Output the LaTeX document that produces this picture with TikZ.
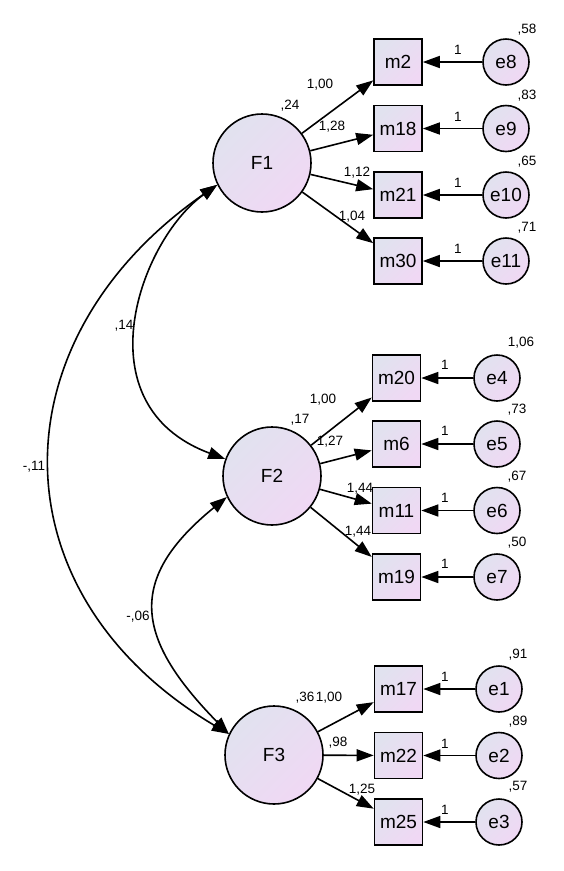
\documentclass[tikz,border=0pt]{standalone}
\usepackage{fontspec}
\setmainfont{Liberation Sans}
\usetikzlibrary{arrows.meta,shadings}
\definecolor{shA}{HTML}{E1E2EF}
\definecolor{shB}{HTML}{F0D8F4}
\tikzset{
  gfill/.style={top color=shA, bottom color=shB, shading angle=45},
  lat/.style={circle, draw, line width=1.6pt, minimum size=98pt, inner sep=0pt, gfill, font=\fontsize{19}{22}\selectfont},
  obs/.style={rectangle, draw, line width=1.6pt, minimum width=48pt, minimum height=46pt, inner sep=0pt, gfill, font=\fontsize{19}{22}\selectfont},
  err/.style={circle, draw, line width=1.6pt, minimum size=46pt, inner sep=0pt, gfill, font=\fontsize{19}{22}\selectfont},
  lab/.style={font=\fontsize{13.5}{15}\selectfont, inner sep=0pt},
  reg/.style={line width=1.6pt, -{Triangle[length=17pt,width=12pt]}},
  cov/.style={line width=1.6pt, {Triangle[length=17pt,width=12pt]}-{Triangle[length=17pt,width=12pt]}}
}
\begin{document}
\begin{tikzpicture}[x=1pt,y=-1pt]
\useasboundingbox (0,0) rectangle (564,871);
% latent factors
\node[lat] (F1) at (262,163) {F1};
\node[lat] (F2) at (272,476) {F2};
\node[lat] (F3) at (274,755) {F3};
% F1 group
\node[obs] (m2)  at (398,62)  {m2};
\node[obs] (m18) at (398,128.5) {m18};
\node[obs] (m21) at (398,195) {m21};
\node[obs] (m30) at (398,261) {m30};
\node[err] (e8)  at (506,62)  {e8};
\node[err] (e9)  at (506,128.5) {e9};
\node[err] (e10) at (506,195) {e10};
\node[err] (e11) at (506,261) {e11};
% F2 group
\node[obs] (m20) at (396.5,378) {m20};
\node[obs] (m6)  at (396.5,444) {m6};
\node[obs] (m11) at (396.5,510.5) {m11};
\node[obs] (m19) at (396.5,577) {m19};
\node[err] (e4) at (497,378) {e4};
\node[err] (e5) at (497,444) {e5};
\node[err] (e6) at (497,510.5) {e6};
\node[err] (e7) at (497,577) {e7};
% F3 group
\node[obs] (m17) at (398.5,689) {m17};
\node[obs] (m22) at (398.5,755.5) {m22};
\node[obs] (m25) at (398.5,822) {m25};
\node[err] (e1) at (499,689) {e1};
\node[err] (e2) at (499,755.5) {e2};
\node[err] (e3) at (499,822) {e3};
% regressions
\draw[reg] (F1) -- (m2);
\draw[reg] (F1) -- (m18);
\draw[reg] (F1) -- (m21);
\draw[reg] (F1) -- (m30);
\draw[reg] (F2) -- (m20);
\draw[reg] (F2) -- (m6);
\draw[reg] (F2) -- (m11);
\draw[reg] (F2) -- (m19);
\draw[reg] (F3) -- (m17);
\draw[reg] (F3) -- (m22);
\draw[reg] (F3) -- (m25);
\foreach \e/\m in {e8/m2,e9/m18,e10/m21,e11/m30,e4/m20,e5/m6,e6/m11,e7/m19,e1/m17,e2/m22,e3/m25}
  \draw[reg] (\e) -- (\m);
% covariances
\draw[cov] (F1.206) .. controls (140,240) and (80,405) .. (F2.160);
\draw[cov] (F1.206) .. controls (-6,340) and (-7,594) .. (F3.155);
\draw[cov] (F2.205) .. controls (125,580) and (136,639) .. (F3.155);
% labels: covariances
\node[lab] (c12) at (124,326) {,14};
\node[lab] (c13) at (34,467) {-,11};
\node[lab] (c23) at (138,617) {-,06};
% factor variances
\node[lab] (v1) at (290,106) {,24};
\node[lab] (v2) at (300,420) {,17};
\node[lab] (v3) at (305,698) {,36};
% loadings
\node[lab] (l1) at (320,85) {1,00};
\node[lab] (l2) at (332,127) {1,28};
\node[lab] (l3) at (357,173) {1,12};
\node[lab] (l4) at (352,217) {1,04};
\node[lab] (l5) at (323,400) {1,00};
\node[lab] (l6) at (330,442) {1,27};
\node[lab] (l7) at (360,489) {1,44};
\node[lab] (l8) at (358,532) {1,44};
\node[lab] (l9) at (329,698) {1,00};
\node[lab] (l10) at (338,743) {,98};
\node[lab] (l11) at (362,790) {1,25};
% error paths "1"
\node[lab] (o8)  at (458,50) {1};
\node[lab] (o9)  at (458,116.5) {1};
\node[lab] (o10) at (458,183) {1};
\node[lab] (o11) at (458,249) {1};
\node[lab] (o4) at (445,365) {1};
\node[lab] (o5) at (445,431) {1};
\node[lab] (o6) at (445,497.5) {1};
\node[lab] (o7) at (445,564) {1};
\node[lab] (o1) at (445,677) {1};
\node[lab] (o2) at (445,743.5) {1};
\node[lab] (o3) at (445,810) {1};
% error variances
\node[lab] (w8)  at (527,30) {,58};
\node[lab] (w9)  at (527,96) {,83};
\node[lab] (w10) at (527,162) {,65};
\node[lab] (w11) at (527,228) {,71};
\node[lab] (w4) at (521,343) {1,06};
\node[lab] (w5) at (517,410) {,73};
\node[lab] (w6) at (517,477) {,67};
\node[lab] (w7) at (517,543) {,50};
\node[lab] (w1) at (518,655) {,91};
\node[lab] (w2) at (518,722) {,89};
\node[lab] (w3) at (518,787) {,57};
\end{tikzpicture}
\end{document}
